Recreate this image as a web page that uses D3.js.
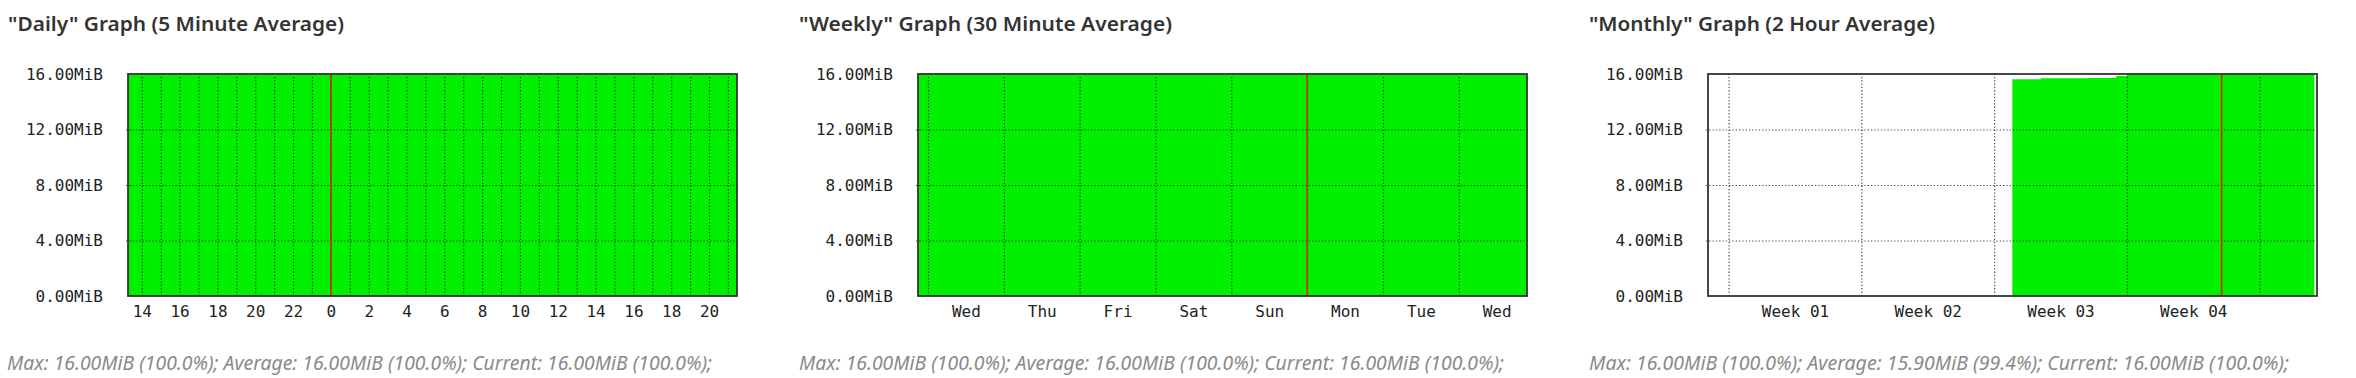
<!DOCTYPE html>
<html>
<head>
<meta charset="utf-8">
<script src="https://cdn.jsdelivr.net/npm/d3@7"></script>
<style>
  html, body { margin: 0; padding: 0; background: #ffffff; }
  svg { display: block; }
</style>
</head>
<body>
<svg id="chart" width="2356" height="378"></svg>
<script>
// ---------- data ----------
const yTicks = [0, 4, 8, 12, 16];
const yTickLabels = ["0.00MiB", "4.00MiB", "8.00MiB", "12.00MiB", "16.00MiB"];
const yMax = 16;

const titles = [
  '"Daily" Graph (5 Minute Average)',
  '"Weekly" Graph (30 Minute Average)',
  '"Monthly" Graph (2 Hour Average)'
];
const footers = [
  "Max: 16.00MiB (100.0%); Average: 16.00MiB (100.0%); Current: 16.00MiB (100.0%);",
  "Max: 16.00MiB (100.0%); Average: 16.00MiB (100.0%); Current: 16.00MiB (100.0%);",
  "Max: 16.00MiB (100.0%); Average: 15.90MiB (99.4%); Current: 16.00MiB (100.0%);"
];

// Daily: time in hours counted from midnight of the first day
const dailyDomain = [13.27, 45.48];
const dailyGrid = [14, 15, 16, 17, 18, 19, 20, 21, 22, 23, 24, 25, 26, 27, 28, 29, 30, 31,
                   32, 33, 34, 35, 36, 37, 38, 39, 40, 41, 42, 43, 44, 45];
const dailyTicks = [14, 16, 18, 20, 22, 24, 26, 28, 30, 32, 34, 36, 38, 40, 42, 44];
const dailyTickLabels = ["14", "16", "18", "20", "22", "0", "2", "4", "6", "8", "10", "12",
                         "14", "16", "18", "20"];
const dailyMarker = 24;
const dailyTime = [13.27, 14, 15, 16, 17, 18, 19, 20, 21, 22, 23, 24, 25, 26, 27, 28, 29, 30,
                   31, 32, 33, 34, 35, 36, 37, 38, 39, 40, 41, 42, 43, 44, 45, 45.48];
const dailyValues = [16, 16, 16, 16, 16, 16, 16, 16, 16, 16, 16, 16, 16, 16, 16, 16, 16, 16,
                     16, 16, 16, 16, 16, 16, 16, 16, 16, 16, 16, 16, 16, 16, 16, 16];

// Weekly: time in days counted from Wednesday 00:00
const weeklyDomain = [-0.132, 7.9];
const weeklyGrid = [0, 1, 2, 3, 4, 5, 6, 7];
const weeklyTicks = [0.5, 1.5, 2.5, 3.5, 4.5, 5.5, 6.5, 7.5];
const weeklyTickLabels = ["Wed", "Thu", "Fri", "Sat", "Sun", "Mon", "Tue", "Wed"];
const weeklyMarker = 5;
const weeklyTime = [-0.132, 0, 1, 2, 3, 4, 5, 6, 7, 7.9];
const weeklyValues = [16, 16, 16, 16, 16, 16, 16, 16, 16, 16];

// Monthly: time in weeks counted from the start of Week 01
const monthlyDomain = [-0.155, 4.432];
const monthlyGrid = [0, 1, 2, 3, 4];
const monthlyTicks = [0.5, 1.5, 2.5, 3.5];
const monthlyTickLabels = ["Week 01", "Week 02", "Week 03", "Week 04"];
const monthlyMarker = 3.714;
const monthlyTime = [2.137, 2.35, 2.7, 2.92, 3.0, 3.2, 3.5, 3.8, 4.1, 4.412];
const monthlyValues = [15.62, 15.69, 15.72, 15.85, 16, 16, 16, 16, 16, 16];

// ---------- drawing ----------
const panels = [
  { x0: 0,    title: titles[0], footer: footers[0], domain: dailyDomain, grid: dailyGrid,
    ticks: dailyTicks, labels: dailyTickLabels, marker: dailyMarker, t: dailyTime, v: dailyValues },
  { x0: 790,  title: titles[1], footer: footers[1], domain: weeklyDomain, grid: weeklyGrid,
    ticks: weeklyTicks, labels: weeklyTickLabels, marker: weeklyMarker, t: weeklyTime, v: weeklyValues },
  { x0: 1580, title: titles[2], footer: footers[2], domain: monthlyDomain, grid: monthlyGrid,
    ticks: monthlyTicks, labels: monthlyTickLabels, marker: monthlyMarker, t: monthlyTime, v: monthlyValues }
];

const svg = d3.select("#chart");
const plotLeft = 128, plotWidth = 609, plotTop = 74, plotBottom = 296;
const titleWidths = [336, 373, 346];
const footerWidths = [705, 705, 700];

panels.forEach((p, i) => {
  const g = svg.append("g").attr("transform", `translate(${p.x0},0)`);

  g.append("text")
    .attr("x", 8 + (i > 0 ? 1 : 0)).attr("y", 31)
    .attr("font-family", "'Noto Sans', 'Open Sans', sans-serif")
    .attr("font-size", 20).attr("font-weight", 600)
    .attr("fill", "#333333")
    .attr("textLength", titleWidths[i]).attr("lengthAdjust", "spacingAndGlyphs")
    .text(p.title);

  g.append("text")
    .attr("x", 7 + (i > 0 ? 2 : 0)).attr("y", 370)
    .attr("font-family", "'Noto Sans', 'Open Sans', sans-serif")
    .attr("font-size", 19).attr("font-style", "italic")
    .attr("fill", "#8a8a8a")
    .attr("textLength", footerWidths[i]).attr("lengthAdjust", "spacingAndGlyphs")
    .text(p.footer);

  const x = d3.scaleLinear().domain(p.domain).range([plotLeft, plotLeft + plotWidth]);
  const y = d3.scaleLinear().domain([0, yMax]).range([plotBottom, plotTop]);

  // area
  const data = p.t.map((t, k) => ({ t, v: p.v[k] }));
  const area = d3.area().curve(d3.curveStepAfter)
    .x(d => x(d.t)).y0(y(0)).y1(d => y(d.v));
  g.append("path").datum(data).attr("d", area).attr("fill", "#00f000");

  // vertical grid
  g.append("g")
    .attr("transform", `translate(0,${plotBottom})`)
    .call(d3.axisBottom(x).tickValues(p.grid).tickSize(-(plotBottom - plotTop)).tickFormat(""))
    .call(s => s.select(".domain").remove())
    .call(s => s.selectAll("line").attr("stroke", "#000").attr("stroke-width", 1.2)
      .attr("stroke-dasharray", "1.3,2").attr("opacity", 0.7));

  // horizontal grid
  g.append("g")
    .attr("transform", `translate(${plotLeft - 2},0)`)
    .call(d3.axisRight(y).tickValues([4, 8, 12]).tickSize(plotWidth + 4).tickFormat(""))
    .call(s => s.select(".domain").remove())
    .call(s => s.selectAll("line").attr("stroke", "#000").attr("stroke-width", 1.2)
      .attr("stroke-dasharray", "1.3,2").attr("opacity", 0.7));

  // marker line
  g.append("line")
    .attr("x1", x(p.marker)).attr("x2", x(p.marker))
    .attr("y1", plotTop).attr("y2", plotBottom)
    .attr("stroke", "#d42a00").attr("stroke-width", 1.6);

  // frame
  g.append("rect")
    .attr("x", plotLeft).attr("y", plotTop)
    .attr("width", plotWidth).attr("height", plotBottom - plotTop)
    .attr("fill", "none").attr("stroke", "#333333").attr("stroke-width", 1.8);

  // y axis labels
  g.append("g")
    .attr("transform", `translate(${plotLeft},0)`)
    .call(d3.axisLeft(y).tickValues(yTicks).tickSize(0).tickPadding(25)
      .tickFormat((d, k) => yTickLabels[k]))
    .call(s => s.select(".domain").remove())
    .call(s => s.selectAll("text").attr("font-family", "'DejaVu Sans Mono', monospace")
      .attr("font-size", 16).attr("fill", "#222"));

  // x axis labels
  g.append("g")
    .attr("transform", `translate(0,${plotBottom})`)
    .call(d3.axisBottom(x).tickValues(p.ticks).tickSize(0).tickPadding(10)
      .tickFormat((d, k) => p.labels[k]))
    .call(s => s.select(".domain").remove())
    .call(s => s.selectAll("text").attr("font-family", "'DejaVu Sans Mono', monospace")
      .attr("font-size", 16).attr("fill", "#222"));
});
</script>
</body>
</html>
